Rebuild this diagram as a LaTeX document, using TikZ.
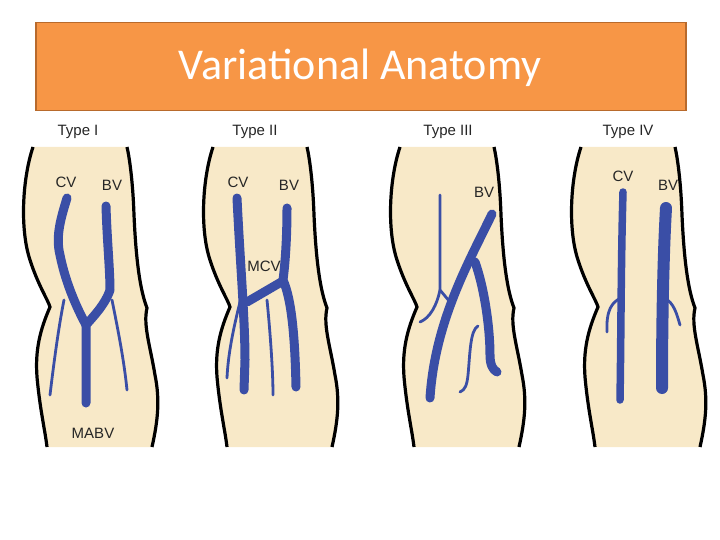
\documentclass[tikz,border=0pt]{standalone}
\usepackage{fontspec}
\setmainfont{Carlito}
\newfontfamily\lab{Liberation Sans}
\definecolor{skin}{HTML}{F8E9C8}
\definecolor{vein}{HTML}{3A4EA6}
\definecolor{ttl}{HTML}{F79646}
\definecolor{ttlb}{HTML}{B86A2C}
\tikzset{
  thick vein/.style={draw=vein,line width=9pt,line cap=round,line join=round},
  thin vein/.style={draw=vein,line width=2.8pt,line cap=round,line join=round},
  lbl/.style={font=\lab\fontsize{15}{16}\selectfont,text=black!85},
}
\newcommand{\myarm}{%
  \fill[skin] (33,147) .. controls (22,180) and (20,230) .. (30,260) .. controls (38,285) and (48,300) .. (50,307)
   .. controls (40,330) and (35,350) .. (37,377) .. controls (40,410) and (45,430) .. (47,447)
   -- (152,447) .. controls (158,420) and (160,400) .. (155,375) .. controls (150,345) and (143,325) .. (147,308)
   .. controls (140,290) and (136,260) .. (134,215) .. controls (133,185) and (130,160) .. (127,147) -- cycle;
  \draw[line width=3.2pt] (33,147) .. controls (22,180) and (20,230) .. (30,260) .. controls (38,285) and (48,300) .. (50,307)
   .. controls (40,330) and (35,350) .. (37,377) .. controls (40,410) and (45,430) .. (47,447);
  \draw[line width=3.2pt] (127,147) .. controls (130,160) and (133,185) .. (134,215) .. controls (136,260) and (140,290) .. (147,308)
   .. controls (143,325) and (150,345) .. (155,375) .. controls (160,400) and (158,420) .. (152,447);
}
\begin{document}
\begin{tikzpicture}[x=1pt,y=-1pt]
\useasboundingbox (0,0) rectangle (720,540);
\fill[white] (0,0) rectangle (720,540);
\node[draw=ttlb,line width=1.5pt,fill=ttl,minimum width=650pt,minimum height=88pt,anchor=north west,inner sep=0pt] (title) at (35,22) {};
\node[text=white,font=\fontsize{44}{48}\selectfont] (tt) at (360,68) {Variational Anatomy};
\begin{scope}\myarm\end{scope}
\begin{scope}[xshift=180pt]\myarm\end{scope}
\begin{scope}[xshift=367pt]\myarm\end{scope}
\begin{scope}[xshift=548pt]\myarm\end{scope}
\node[lbl] (t1) at (78,132) {Type I};
\node[lbl] (t2) at (255,132) {Type II};
\node[lbl] (t3) at (448,132) {Type III};
\node[lbl] (t4) at (628,132) {Type IV};
% Type I veins
\draw[thin vein] (64,300) .. controls (58,330) and (53,370) .. (50,395);
\draw[thin vein] (112,300) .. controls (118,330) and (124,360) .. (127,390);
\draw[thick vein] (67,198) .. controls (62,215) and (55,235) .. (60,255) .. controls (66,285) and (78,310) .. (86,325);
\draw[thick vein] (106,206) .. controls (107,240) and (110,270) .. (110,290) .. controls (105,305) and (92,318) .. (86,325) -- (86,403);
\node[lbl] at (66,182) {CV};
\node[lbl] at (112,185) {BV};
\node[lbl] at (93,433) {MABV};
% Type II veins
\draw[thin vein] (240,302) .. controls (233,330) and (228,355) .. (227,378);
\draw[thin vein] (267,300) .. controls (270,330) and (273,370) .. (273,395);
\draw[thick vein] (237,198) .. controls (240,260) and (245,320) .. (245,360) -- (244,390);
\draw[thick vein] (287,208) .. controls (287,240) and (285,265) .. (283,280) .. controls (292,300) and (295,340) .. (296,387);
\draw[thick vein] (247,302) -- (283,281);
\node[lbl] at (238,182) {CV};
\node[lbl] at (289,185) {BV};
\node[lbl] at (264,266) {MCV};
% Type III veins
\draw[thin vein] (440,195) -- (440,290) -- (450,302);
\draw[thin vein] (440,290) .. controls (437,305) and (430,318) .. (420,322);
\draw[thin vein] (478,326) .. controls (470,330) and (470,355) .. (468,375) .. controls (467,385) and (465,390) .. (460,392);
\draw[thick vein] (492,214) .. controls (470,260) and (435,320) .. (430,398);
\draw[thick vein] (475,262) .. controls (485,290) and (490,330) .. (490,355) .. controls (490,365) and (493,370) .. (497,372);
\node[lbl] at (484,192) {BV};
% Type IV veins
\draw[thin vein] (621,298) .. controls (612,302) and (606,310) .. (607,332);
\draw[thin vein] (664,298) .. controls (674,302) and (677,315) .. (680,325);
\draw[thick vein,line width=7.5pt] (623,192) .. controls (621,260) and (621,340) .. (620,400);
\draw[thick vein,line width=12pt] (666,208) .. controls (663,260) and (662,330) .. (662,388);
\node[lbl] at (623,176) {CV};
\node[lbl] at (668,185) {BV};
\end{tikzpicture}
\end{document}
